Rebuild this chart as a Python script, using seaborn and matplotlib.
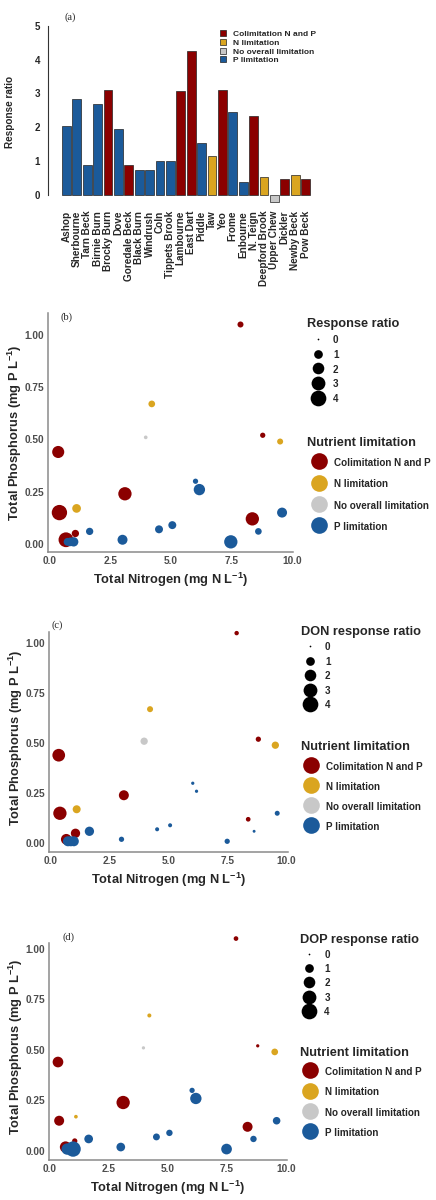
import numpy as np
import pandas as pd
import matplotlib
matplotlib.use("Agg")
import matplotlib.pyplot as plt
import seaborn as sns
from matplotlib.lines import Line2D
from matplotlib.patches import Patch

# ---- panel (a): response ratio per river ----
rivers = ["Ashop", "Sherbourne", "Tarn Beck", "Birnie Burn", "Brocky Burn", "Dove",
          "Goredale Beck", "Black Burn", "Windrush", "Coln", "Tippets Brook", "Lambourne",
          "East Dart", "Piddle", "Taw", "Yeo", "Frome", "Enbourne", "N. Teign",
          "Deepford Brook", "Upper Chew", "Dickler", "Newby Beck", "Pow Beck"]
bar_ratio = [2.05, 2.83, 0.88, 2.68, 3.09, 1.95, 0.89, 0.73, 0.73, 1.01, 1.01, 3.07,
             4.25, 1.54, 1.15, 3.09, 2.46, 0.39, 2.33, 0.53, -0.22, 0.45, 0.58, 0.47]
bar_lim = ["P", "P", "P", "P", "C", "P", "C", "P", "P", "P", "P", "C",
           "C", "P", "N", "C", "P", "P", "C", "N", "O", "C", "N", "C"]

# ---- panels (b)-(d): one point per site ----
tn = [7.88, 4.21, 3.96, 8.80, 9.52, 0.34, 6.02, 6.18, 3.10, 0.39, 1.10, 1.64,
      1.05, 0.66, 0.73, 0.98, 0.85, 3.00, 4.51, 5.06, 7.48, 8.37, 8.62, 9.60]
tp = [1.05, 0.67, 0.51, 0.52, 0.49, 0.44, 0.30, 0.26, 0.24, 0.15, 0.17, 0.06,
      0.05, 0.02, 0.01, 0.01, 0.01, 0.02, 0.07, 0.09, 0.01, 0.12, 0.06, 0.15]
pt_lim = ["C", "N", "O", "C", "N", "C", "P", "P", "C", "C", "N", "P",
          "C", "C", "P", "P", "P", "P", "P", "P", "P", "C", "P", "P"]
rr = [0.38, 0.51, 0.08, 0.26, 0.38, 2.2, 0.26, 1.9, 2.75, 3.8, 1.0, 0.64,
      0.64, 3.5, 0.8, 1.2, 1.0, 1.4, 0.8, 0.8, 2.75, 2.75, 0.5, 1.4]
don_rr = [0.15, 0.38, 0.64, 0.26, 0.64, 2.47, 0.05, 0.05, 1.4, 2.75, 0.81, 1.18,
          1.18, 1.65, 1.4, 1.4, 1.4, 0.26, 0.11, 0.11, 0.26, 0.18, 0.03, 0.22]
dop_rr = [0.18, 0.11, 0.05, 0.05, 0.51, 1.65, 0.26, 1.9, 2.75, 1.4, 0.08, 1.0,
          0.26, 1.9, 1.9, 3.8, 1.0, 1.0, 0.55, 0.45, 1.65, 1.4, 0.45, 0.7]

lim_names = {"C": "Colimitation N and P", "N": "N limitation",
             "O": "No overall limitation", "P": "P limitation"}
lim_levels = list(lim_names.values())
lim_colours = ["#8B0000", "#DAA520", "#C8C8C8", "#1B5A9A"]
palette = dict(zip(lim_levels, lim_colours))
size_breaks = [0, 1, 2, 3, 4]

sns.set_theme(style="white")
plt.rcParams["font.family"] = ["Liberation Sans", "DejaVu Sans"]
plt.rcParams["font.weight"] = "bold"
plt.rcParams["axes.labelweight"] = "bold"
plt.rcParams["mathtext.fontset"] = "custom"
plt.rcParams["mathtext.rm"] = "Liberation Sans"
plt.rcParams["mathtext.default"] = "regular"

W, H = 436, 1200
fig = plt.figure(figsize=(W / 100, H / 100), dpi=100)


def rect(l, t, r, b):
    return [l / W, 1 - b / H, (r - l) / W, (b - t) / H]


def diam(v):
    # point diameter in pixels, ggplot-like sqrt scaling
    return 1.7 + 7 * np.sqrt(max(v, 0))


# ---------------- (a) bar chart ----------------
bars = pd.DataFrame({"river": rivers, "ratio": bar_ratio,
                     "lim": [lim_names[k] for k in bar_lim]})
ax = fig.add_axes(rect(48.3, 26, 315, 204.8))
sns.barplot(data=bars, x="river", y="ratio", hue="lim", order=rivers,
            hue_order=lim_levels, palette=palette, dodge=False, width=0.85,
            saturation=1, edgecolor="#222222", linewidth=0.5, legend=False, ax=ax)
ax.set_xlim(-1.74, 23.9)
ax.set_ylim(-0.3, 5)
ax.set_yticks(range(6))
for s in ["top", "right", "bottom"]:
    ax.spines[s].set_visible(False)
ax.spines["left"].set_bounds(0, 5)
ax.spines["left"].set_color("#333333")
ax.spines["left"].set_linewidth(0.8)
ax.tick_params(axis="y", length=2.4, width=0.8, pad=3.5, labelsize=7, color="#333333")
ax.tick_params(axis="x", length=0, pad=4.3, labelsize=7.2, rotation=90)
ax.set_xlabel("")
ax.set_ylabel("Response ratio", fontsize=7.2)
ax.yaxis.set_label_coords(-0.125, 0.52)
ax.text(70 / W, 1 - 17 / H, "(a)", transform=fig.transFigure, fontsize=7.5,
        family="Liberation Serif", weight="normal", ha="center", va="center")
handles = [Patch(facecolor=c, edgecolor="#222222", linewidth=0.5, label=n)
           for n, c in zip(lim_levels, lim_colours)]
ax.legend(handles=handles, loc="upper left", bbox_to_anchor=(220 / W, 1 - 30 / H),
          bbox_transform=fig.transFigure, frameon=False, fontsize=6,
          handlelength=0.7, handleheight=0.7, handletextpad=0.9,
          labelspacing=0.12, borderpad=0, borderaxespad=0)

# ---------------- (b)-(d) scatter panels ----------------
pts = pd.DataFrame({"tn": tn, "tp": tp, "lim": [lim_names[k] for k in pt_lim],
                    "rr": rr, "don": don_rr, "dop": dop_rr})

panels = [
    dict(col="rr", title="Response ratio", tag="(b)", tag_xy=(66, 317),
         box=(48.3, 313, 292.7, 552.3), xlim=(-0.07, 10.04), ylim=(-0.04, 1.105),
         spine_top=1.105, leg_x=307, size_y=318.2, col_y=436.5,
         s_hl=2.17, s_tp=0.47, s_ls=0.45, c_hl=2.43, c_tp=0.3, c_ls=0.8),
    dict(col="don", title="DON response ratio", tag="(c)", tag_xy=(57, 625),
         box=(49.3, 622.5, 287.6, 852.3), xlim=(-0.06, 10.04), ylim=(-0.045, 1.103),
         spine_top=1.057, leg_x=300.7, size_y=625.8, col_y=740.8,
         s_hl=1.89, s_tp=0.58, s_ls=0.42, c_hl=2.0, c_tp=0.55, c_ls=0.7),
    dict(col="dop", title="DOP response ratio", tag="(d)", tag_xy=(68, 937),
         box=(49, 933.5, 287, 1160), xlim=(-0.04, 10.04), ylim=(-0.044, 1.075),
         spine_top=1.03, leg_x=300, size_y=933.5, col_y=1046.5,
         s_hl=1.89, s_tp=0.58, s_ls=0.4, c_hl=2.0, c_tp=0.55, c_ls=0.7),
]

for p in panels:
    ax = fig.add_axes(rect(*p["box"]))
    vals = sorted(set(pts[p["col"]]))
    sizes = {v: (diam(v) * 0.72) ** 2 for v in vals}
    sns.scatterplot(data=pts, x="tn", y="tp", hue="lim", hue_order=lim_levels,
                    palette=palette, size=p["col"], sizes=sizes, linewidth=0,
                    alpha=1, legend=False, ax=ax, clip_on=False)
    ax.set_xlim(*p["xlim"])
    ax.set_ylim(*p["ylim"])
    ax.set_xticks([0, 2.5, 5, 7.5, 10])
    ax.set_xticklabels(["0.0", "2.5", "5.0", "7.5", "10.0"])
    ax.set_yticks([0, 0.25, 0.5, 0.75, 1.0])
    ax.set_yticklabels(["0.00", "0.25", "0.50", "0.75", "1.00"])
    for s in ["top", "right"]:
        ax.spines[s].set_visible(False)
    for s in ["left", "bottom"]:
        ax.spines[s].set_color("#8a8a8a")
        ax.spines[s].set_linewidth(1.1)
    ax.spines["left"].set_bounds(p["ylim"][0], p["spine_top"])
    ax.tick_params(length=2, width=0.8, pad=0.8, labelsize=7.3,
                   color="#8a8a8a", labelcolor="#4D4D4D")
    ax.set_xlabel("Total Nitrogen (mg N L$^{-1}$)", fontsize=9.3, labelpad=3.2)
    ax.set_ylabel("Total Phosphorus (mg P L$^{-1}$)", fontsize=9.3, labelpad=0.5)
    fig.text(p["tag_xy"][0] / W, 1 - p["tag_xy"][1] / H, p["tag"], fontsize=7.5,
             family="Liberation Serif", weight="normal", ha="center", va="center")

    size_h = [Line2D([], [], ls="", marker="o", color="black", markeredgewidth=0,
                     markersize=diam(v) * 0.72, label=str(v)) for v in size_breaks]
    leg1 = ax.legend(handles=size_h, title=p["title"], loc="upper left",
                     bbox_to_anchor=(p["leg_x"] / W, 1 - p["size_y"] / H),
                     bbox_transform=fig.transFigure, frameon=False, fontsize=7.1,
                     title_fontproperties={"size": 9.2, "weight": "bold"},
                     alignment="left", handlelength=p["s_hl"], handleheight=1.2,
                     handletextpad=p["s_tp"], labelspacing=p["s_ls"],
                     borderpad=0, borderaxespad=0)
    ax.add_artist(leg1)
    col_h = [Line2D([], [], ls="", marker="o", color=c, markeredgewidth=0,
                    markersize=12, label=n) for n, c in zip(lim_levels, lim_colours)]
    ax.legend(handles=col_h, title="Nutrient limitation", loc="upper left",
              bbox_to_anchor=(p["leg_x"] / W, 1 - p["col_y"] / H),
              bbox_transform=fig.transFigure, frameon=False, fontsize=7.1,
              title_fontproperties={"size": 9.2, "weight": "bold"},
              alignment="left", handlelength=p["c_hl"], handleheight=1.7,
              handletextpad=p["c_tp"], labelspacing=p["c_ls"],
              borderpad=0, borderaxespad=0)

fig.savefig("out.png", dpi=100)
